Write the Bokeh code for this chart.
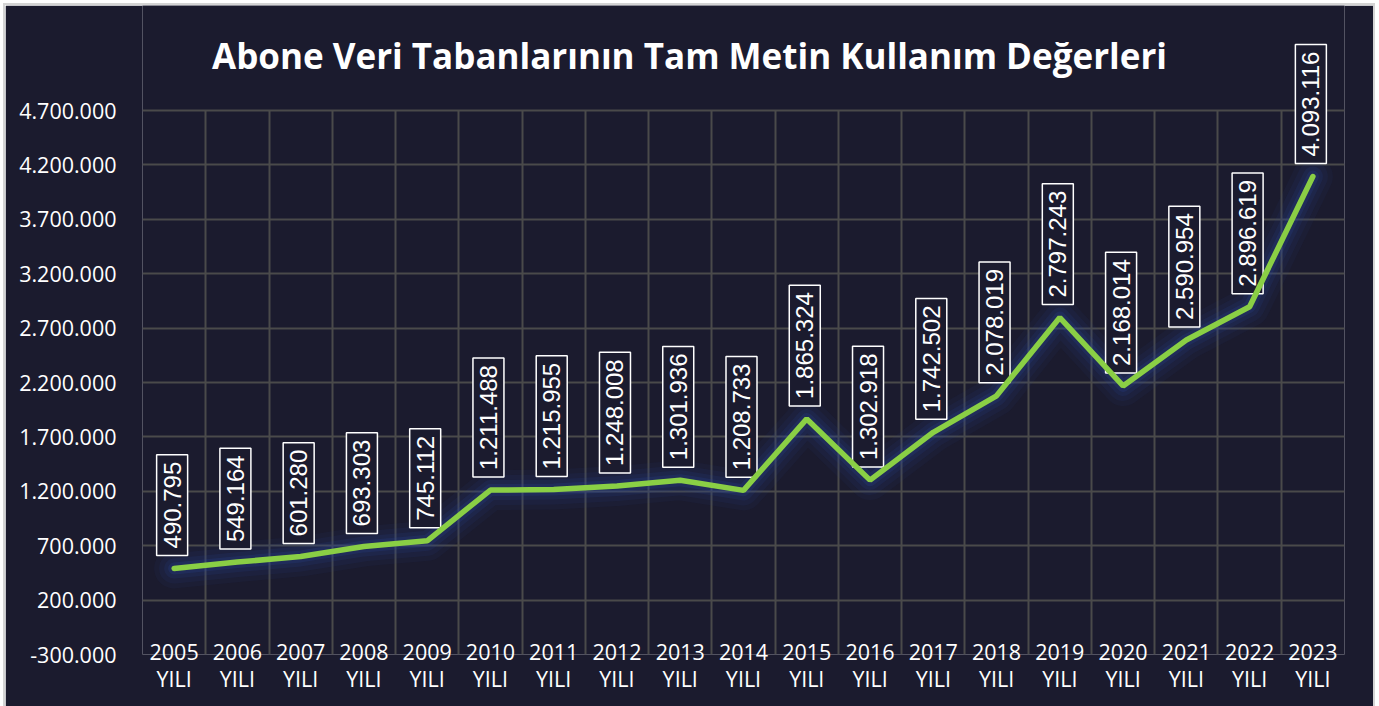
import math
from bokeh.plotting import figure
from bokeh.models import ColumnDataSource, Label, FixedTicker, Range1d
from bokeh.embed import file_html
from bokeh.resources import INLINE

years = ["2005", "2006", "2007", "2008", "2009", "2010", "2011", "2012", "2013", "2014",
         "2015", "2016", "2017", "2018", "2019", "2020", "2021", "2022", "2023"]
values = [490795, 549164, 601280, 693303, 745112, 1211488, 1215955, 1248008, 1301936, 1208733,
          1865324, 1302918, 1742502, 2078019, 2797243, 2168014, 2590954, 2896619, 4093116]
value_labels = ["490.795", "549.164", "601.280", "693.303", "745.112", "1.211.488", "1.215.955",
                "1.248.008", "1.301.936", "1.208.733", "1.865.324", "1.302.918", "1.742.502",
                "2.078.019", "2.797.243", "2.168.014", "2.590.954", "2.896.619", "4.093.116"]
y_ticks = [-300000, 200000, 700000, 1200000, 1700000, 2200000, 2700000, 3200000, 3700000, 4200000, 4700000]
y_tick_labels = ["-300.000", "200.000", "700.000", "1.200.000", "1.700.000", "2.200.000",
                 "2.700.000", "3.200.000", "3.700.000", "4.200.000", "4.700.000"]
title_text = "Abone Veri Tabanlarının Tam Metin Kullanım Değerleri"

BG = "#1b1b2e"
GRID = "#4a4a4a"
xs = [i + 0.5 for i in range(len(years))]
src = ColumnDataSource(dict(x=xs, y=values, lab=value_labels))

# the plotting frame runs to the top of the figure so that the tallest value box is not clipped;
# the grid is bounded to the axis range
H, FRAME_BOTTOM, GRID_TOP = 701, 649, 105
units_per_px = (y_ticks[-1] - y_ticks[0]) / (FRAME_BOTTOM - GRID_TOP)
y_top = y_ticks[-1] + GRID_TOP * units_per_px

p = figure(width=1368, height=H, output_backend="svg", toolbar_location=None,
           x_range=Range1d(0, len(years)), y_range=Range1d(y_ticks[0], y_top),
           min_border_left=137, min_border_right=29,
           min_border_top=0, min_border_bottom=H - FRAME_BOTTOM)
p.styles = {"margin-left": "5px", "margin-top": "5px", "outline": "2px solid #d4d4d4"}
p.background_fill_color = BG
p.border_fill_color = BG
p.outline_line_color = None

# grids
p.xgrid.ticker = FixedTicker(ticks=list(range(len(years) + 1)))
p.xgrid.cross_bounds = (y_ticks[0], y_ticks[-1])
p.ygrid.ticker = FixedTicker(ticks=y_ticks)
for g in (p.xgrid, p.ygrid):
    g.grid_line_color = GRID
    g.grid_line_width = 2

# axes
p.yaxis.ticker = FixedTicker(ticks=y_ticks)
p.yaxis.major_label_overrides = {t: l for t, l in zip(y_ticks, y_tick_labels)}
p.xaxis.ticker = FixedTicker(ticks=xs)
p.xaxis.major_label_overrides = {x: y + "\nYILI" for x, y in zip(xs, years)}
for ax in (p.xaxis, p.yaxis):
    ax.axis_line_color = None
    ax.major_tick_line_color = None
    ax.minor_tick_line_color = None
    ax.major_label_text_color = "white"
    ax.major_label_text_font = "Open Sans"
    ax.major_label_text_font_size = "21.5px"
p.xaxis.major_label_text_line_height = 0.95
p.yaxis.major_label_standoff = 20
p.xaxis.major_label_standoff = -24

# glow + line
for w, a in [(40, 0.07), (30, 0.10), (20, 0.15), (12, 0.22)]:
    p.line("x", "y", source=src, line_width=w, line_color="#2a4496", line_alpha=a,
           line_cap="round", line_join="round")
p.line("x", "y", source=src, line_width=5.5, line_color="#8acf45", line_cap="round",
       level="overlay")

for x, y, lab in zip(xs, values, value_labels):
    p.add_layout(Label(x=x, y=y, text=lab, angle=math.pi / 2, level="annotation",
                       text_align="left", text_baseline="middle", y_offset=13, x_offset=-2,
                       text_color="white", text_font="Liberation Sans", text_font_size="24px",
                       border_line_color="white", border_line_width=1.5,
                       background_fill_color=BG, padding=7))

# title
p.add_layout(Label(x=len(years) / 2, y=y_top, x_offset=-54, y_offset=-50, text=title_text,
                   text_align="center", text_baseline="middle", text_color="white",
                   text_font="Open Sans", text_font_style="bold", text_font_size="35px"))

open("out.html", "w").write(file_html(p, INLINE))
